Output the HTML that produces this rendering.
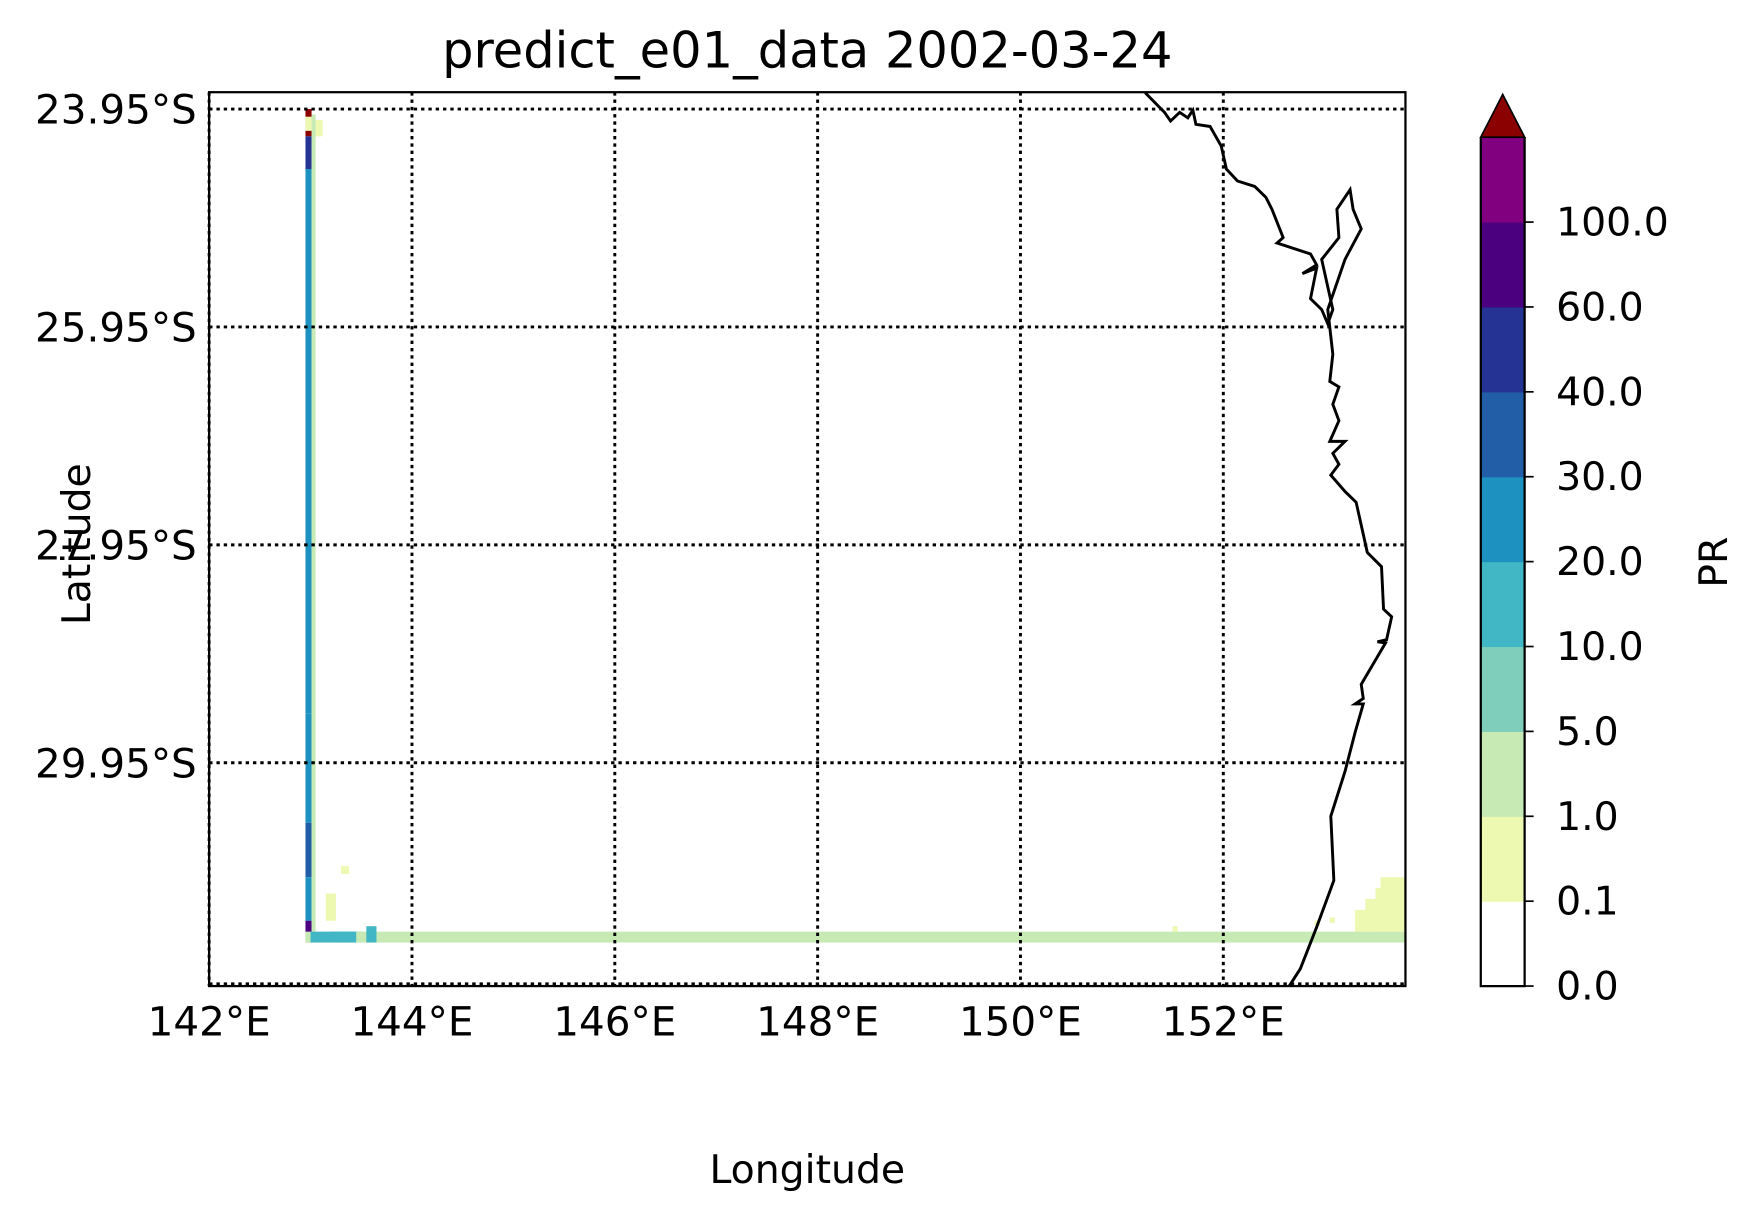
<!DOCTYPE html>
<html><head><meta charset="utf-8"><style>
html,body{margin:0;padding:0;background:#fff;}
svg{display:block;font-family:"DejaVu Sans","Liberation Sans",sans-serif;}
</style></head><body>
<svg width="1754" height="1216" viewBox="0 0 1560 1081.5" xmlns="http://www.w3.org/2000/svg">
<rect width="1560" height="1081.5" fill="#fff"/>
<text x="718" y="60" font-size="44" text-anchor="middle">predict_e01_data 2002-03-24</text>
<g id="cells"></g>
<g id="grid"></g>
<polyline id="coast" fill="none" stroke="#000" stroke-width="2.6"/>
<rect x="186" y="82" width="1064" height="795" fill="none" stroke="#000" stroke-width="2"/>
<g id="ticks" font-size="36"></g>
<text x="718" y="1052" font-size="35" text-anchor="middle">Longitude</text>
<text transform="translate(80,484) rotate(-90)" font-size="35" text-anchor="middle">Latitude</text>
<g id="cbar"></g>
<text transform="translate(1536,500) rotate(-90)" font-size="35" text-anchor="middle">PR</text>
</svg>
<script>
const lonTicks=[142,144,146,148,150,152];
const latTicks=[23.95,25.95,27.95,29.95];
const levels=[0,0.1,1,5,10,20,30,40,60,100];
const levelLabels=["0.0","0.1","1.0","5.0","10.0","20.0","30.0","40.0","60.0","100.0"];
const levelColors=["#ffffff","#edf8b1","#c7e9b4","#7fcdbb","#41b6c4","#1d91c0","#225ea8","#253494","#4b0080","#800080"];
const overColor="#8b0000";
// cells: [lon0, lon1, lat0, lat1, value]
const cellLon0=[142.95,142.95,142.95,142.95,142.95,142.95,142.95,142.95,143.01,142.95,142.95,143.0,143.2,143.45,143.55,143.15,153.4,153.3,153.55,152.9,153.05,151.5,143.3,143.05,153.5];
const cellLon1=[143.01,143.01,143.01,143.01,143.01,143.01,143.01,143.01,143.05,143.01,143.01,143.45,143.5,153.8,143.65,143.25,153.8,153.45,153.8,152.95,153.1,151.55,143.38,143.12,153.6];
const cellLat0=[23.95,24.0,24.2,24.5,29.5,30.5,31.0,31.4,24.0,24.02,31.5,31.5,31.5,31.5,31.45,31.15,31.2,31.3,31.0,31.4,31.37,31.45,30.9,24.05,31.1];
const cellLat1=[24.0,24.2,24.5,29.5,30.5,31.0,31.4,31.6,31.5,24.15,31.6,31.6,31.6,31.6,31.6,31.4,31.5,31.5,31.2,31.45,31.42,31.5,30.97,24.2,31.2];
const cellVal=[150,150,50,25,25,35,22,70,3,0.5,3,15,12,3,12,0.5,0.5,0.5,0.5,0.5,0.5,0.5,0.5,0.5,0.5];
const coastLon=[151.23,151.42,151.48,151.57,151.65,151.7,151.73,151.87,151.98,152.03,152.14,152.31,152.42,152.48,152.59,152.53,152.86,152.92,152.78,152.92,152.86,152.97,153.03,153.08,152.97,153.14,153.12,153.25,153.28,153.36,153.2,153.03,153.08,153.05,153.14,153.08,153.14,153.05,153.2,153.08,153.14,153.06,153.2,153.31,153.42,153.56,153.58,153.66,153.61,153.52,153.6,153.36,153.38,153.3,153.38,153.3,153.2,153.06,153.09,152.92,152.76,152.65];
const coastLat=[23.8,23.98,24.06,23.98,24.03,23.96,24.09,24.11,24.29,24.5,24.61,24.66,24.76,24.87,25.13,25.18,25.28,25.38,25.46,25.41,25.69,25.79,25.92,25.79,25.33,25.13,24.87,24.69,24.87,25.05,25.33,25.79,26.2,26.45,26.5,26.66,26.81,27.0,27.0,27.11,27.21,27.31,27.46,27.56,28.02,28.15,28.54,28.61,28.82,28.84,28.85,29.23,29.36,29.41,29.41,29.67,30.03,30.44,31.03,31.46,31.84,32.0];
const X=lon=>186+(lon-142)*90.2;
const Y=lat=>97+(lat-23.95)*96.9;
const NS="http://www.w3.org/2000/svg";
function mk(tag,attrs,parent){const e=document.createElementNS(NS,tag);for(const k in attrs)e.setAttribute(k,attrs[k]);parent.appendChild(e);return e;}
function colorFor(v){if(v>=levels[levels.length-1])return overColor;for(let i=levels.length-1;i>=0;i--){if(v>=levels[i])return levelColors[i];}return "#fff";}
const cells=document.getElementById('cells');
for(let i=0;i<cellVal.length;i++){
  const x0=X(cellLon0[i]),x1=Math.min(X(cellLon1[i]),1250),y0=Y(cellLat0[i]),y1=Y(cellLat1[i]);
  const r=mk('rect',{x:x0,y:y0,width:x1-x0,height:y1-y0,fill:colorFor(cellVal[i])},cells);
  
  
}
const grid=document.getElementById('grid'),ticks=document.getElementById('ticks');
lonTicks.forEach(l=>{
  const x=X(l);
  const g=mk('line',{x1:x,x2:x,y1:82,y2:877,stroke:'#000','stroke-width':2.6,'stroke-dasharray':'3 3.5'},grid);
  
  
  const t=mk('text',{x:x,y:921,'text-anchor':'middle'},ticks);t.textContent=l+'°E';
  
  
});
latTicks.forEach(l=>{
  const y=Y(l);
  const g=mk('line',{x1:186,x2:1250,y1:y,y2:y,stroke:'#000','stroke-width':2.6,'stroke-dasharray':'3 3.5'},grid);
  
  
  const t=mk('text',{x:175,y:y+13,'text-anchor':'end'},ticks);t.textContent=l.toFixed(2)+'°S';
  
  
});
const bl=mk('line',{x1:186,x2:1250,y1:875,y2:875,stroke:'#000','stroke-width':2.6,'stroke-dasharray':'3 3.5'},grid);


document.getElementById('coast').setAttribute('points',coastLon.map((l,i)=>X(l)+','+Math.min(Y(coastLat[i]),877)).join(' '));
const cb=document.getElementById('cbar');
const cbTop=122,cbBot=877,bh=(cbBot-cbTop)/levelColors.length;
levelColors.forEach((c,i)=>{
  const r=mk('rect',{x:1317,y:cbBot-(i+1)*bh,width:39,height:bh+0.5,fill:c},cb);
  
  
});
const tri=mk('polygon',{points:'1317,'+cbTop+' 1336.5,84 1356,'+cbTop,fill:overColor,stroke:'#000','stroke-width':1.5},cb);


const outline=mk('polyline',{points:`1317,${cbTop} 1317,${cbBot} 1356,${cbBot} 1356,${cbTop}`,fill:'none',stroke:'#000','stroke-width':2},cb);


levelLabels.forEach((lab,i)=>{
  const y=cbBot-i*bh;
  mk('line',{x1:1356,x2:1364,y1:y,y2:y,stroke:'#000','stroke-width':1.5},cb);
  const t=mk('text',{x:1384,y:y+12,'font-size':35},cb);t.textContent=lab;
  
  
});
</script>
</body></html>
